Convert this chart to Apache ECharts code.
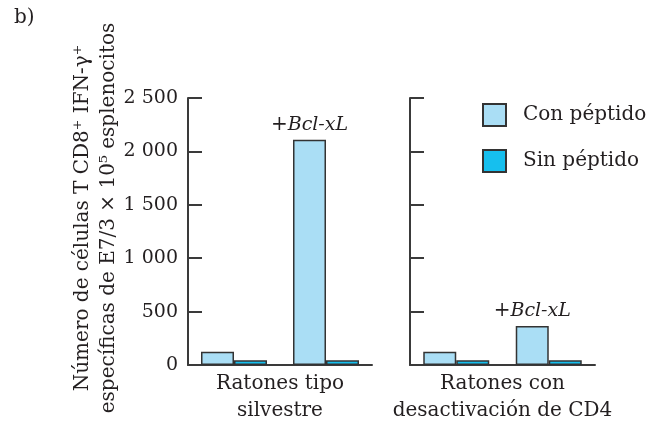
<!DOCTYPE html>
<html>
<head>
<meta charset="utf-8">
<script src="https://cdn.jsdelivr.net/npm/echarts@6/dist/echarts.min.js"></script>
<style>
html, body { margin: 0; padding: 0; background: #fff; }
#chart { width: 659px; height: 423px; }
</style>
</head>
<body>
<div id="chart"></div>
<script>
// data
var groups = ['control', 'bclxl'];
var wildCon = [125, 2110];
var wildSin = [45, 45];
var cd4Con = [125, 365];
var cd4Sin = [45, 45];
var yTicks = [0, 500, 1000, 1500, 2000, 2500];

var font = 'DejaVu Serif, Liberation Serif, serif';
var ink = '#231f20';
var lightBlue = '#aadef5';
var cyan = '#16bfee';
var axisColor = '#3a3a3a';

function tickLabel(v) {
	// space as thousands separator like the figure
	return v >= 1000 ? String(v).replace(/\B(?=(\d{3})+(?!\d))/g, ' ') : String(v);
}

var bclLabel = {
	show: true,
	position: 'top',
	distance: 5,
	formatter: '{a|+}{b|Bcl-xL}',
	rich: {
		a: { fontFamily: font, fontSize: 20, color: ink },
		b: { fontFamily: font, fontSize: 19, color: ink, fontStyle: 'italic' }
	}
};

function conData(arr) {
	return arr.map(function (v, i) {
		return i === 1 ? { value: v, label: bclLabel } : v;
	});
}

function yAxis(gridIndex, showLabels) {
	return {
		type: 'value',
		gridIndex: gridIndex,
		min: 0,
		max: yTicks[yTicks.length - 1],
		interval: 500,
		splitLine: { show: false },
		axisLine: { show: true, lineStyle: { color: axisColor, width: 2 } },
		axisTick: { show: true, inside: true, length: 14, lineStyle: { color: axisColor, width: 2 } },
		axisLabel: {
			show: showLabels,
			margin: 10,
			fontFamily: font,
			fontSize: 19,
			color: ink,
			formatter: tickLabel
		}
	};
}

function xAxis(gridIndex, name) {
	return {
		type: 'category',
		gridIndex: gridIndex,
		data: groups,
		axisLine: { show: true, lineStyle: { color: axisColor, width: 2 } },
		axisTick: { show: false },
		axisLabel: { show: false },
		name: name,
		nameLocation: 'middle',
		nameGap: 5,
		nameTextStyle: { fontFamily: font, fontSize: 20, color: ink, lineHeight: 27, verticalAlign: 'top' }
	};
}

function barSeries(name, data, color, idx) {
	return {
		name: name,
		type: 'bar',
		xAxisIndex: idx,
		yAxisIndex: idx,
		data: data,
		barWidth: 33,
		barGap: '0%',
		itemStyle: { color: color, borderColor: '#333', borderWidth: 1.5 },
		emphasis: { disabled: true }
	};
}

var chart = echarts.init(document.getElementById('chart'), null, { renderer: 'canvas' });
chart.setOption({
	animation: false,
	backgroundColor: '#fff',
	grid: [
		{ left: 188, top: 98, width: 184, height: 267, outerBoundsMode: 'none', containLabel: false },
		{ left: 410, top: 98, width: 185, height: 267, outerBoundsMode: 'none', containLabel: false }
	],
	xAxis: [xAxis(0, 'Ratones tipo\nsilvestre'), xAxis(1, 'Ratones con\ndesactivación de CD4')],
	yAxis: [yAxis(0, true), yAxis(1, false)],
	legend: {
		orient: 'vertical',
		left: 477,
		top: 98,
		icon: 'rect',
		itemWidth: 23,
		itemHeight: 22,
		itemGap: 22,
		data: ['Con péptido', 'Sin péptido'],
		textStyle: { fontFamily: font, fontSize: 20, color: ink, padding: [0, 0, 0, 12] },
		selectedMode: false
	},
	graphic: [
		{
			type: 'text',
			left: 14,
			top: 8,
			style: { text: 'b)', font: '20px ' + font, fill: ink }
		},
		{
			type: 'text',
			x: 96,
			y: 218,
			rotation: Math.PI / 2,
			style: {
				text: 'Número de células T CD8\u207A IFN-\u03B3\u207A\nespecíficas de E7/3 \u00D7 10\u2075 esplenocitos',
				font: '20px ' + font,
				fill: ink,
				align: 'center',
				verticalAlign: 'middle',
				lineHeight: 26
			}
		}
	],
	series: [
		barSeries('Con péptido', conData(wildCon), lightBlue, 0),
		barSeries('Sin péptido', wildSin, cyan, 0),
		barSeries('Con péptido', conData(cd4Con), lightBlue, 1),
		barSeries('Sin péptido', cd4Sin, cyan, 1)
	]
});
</script>
</body>
</html>
